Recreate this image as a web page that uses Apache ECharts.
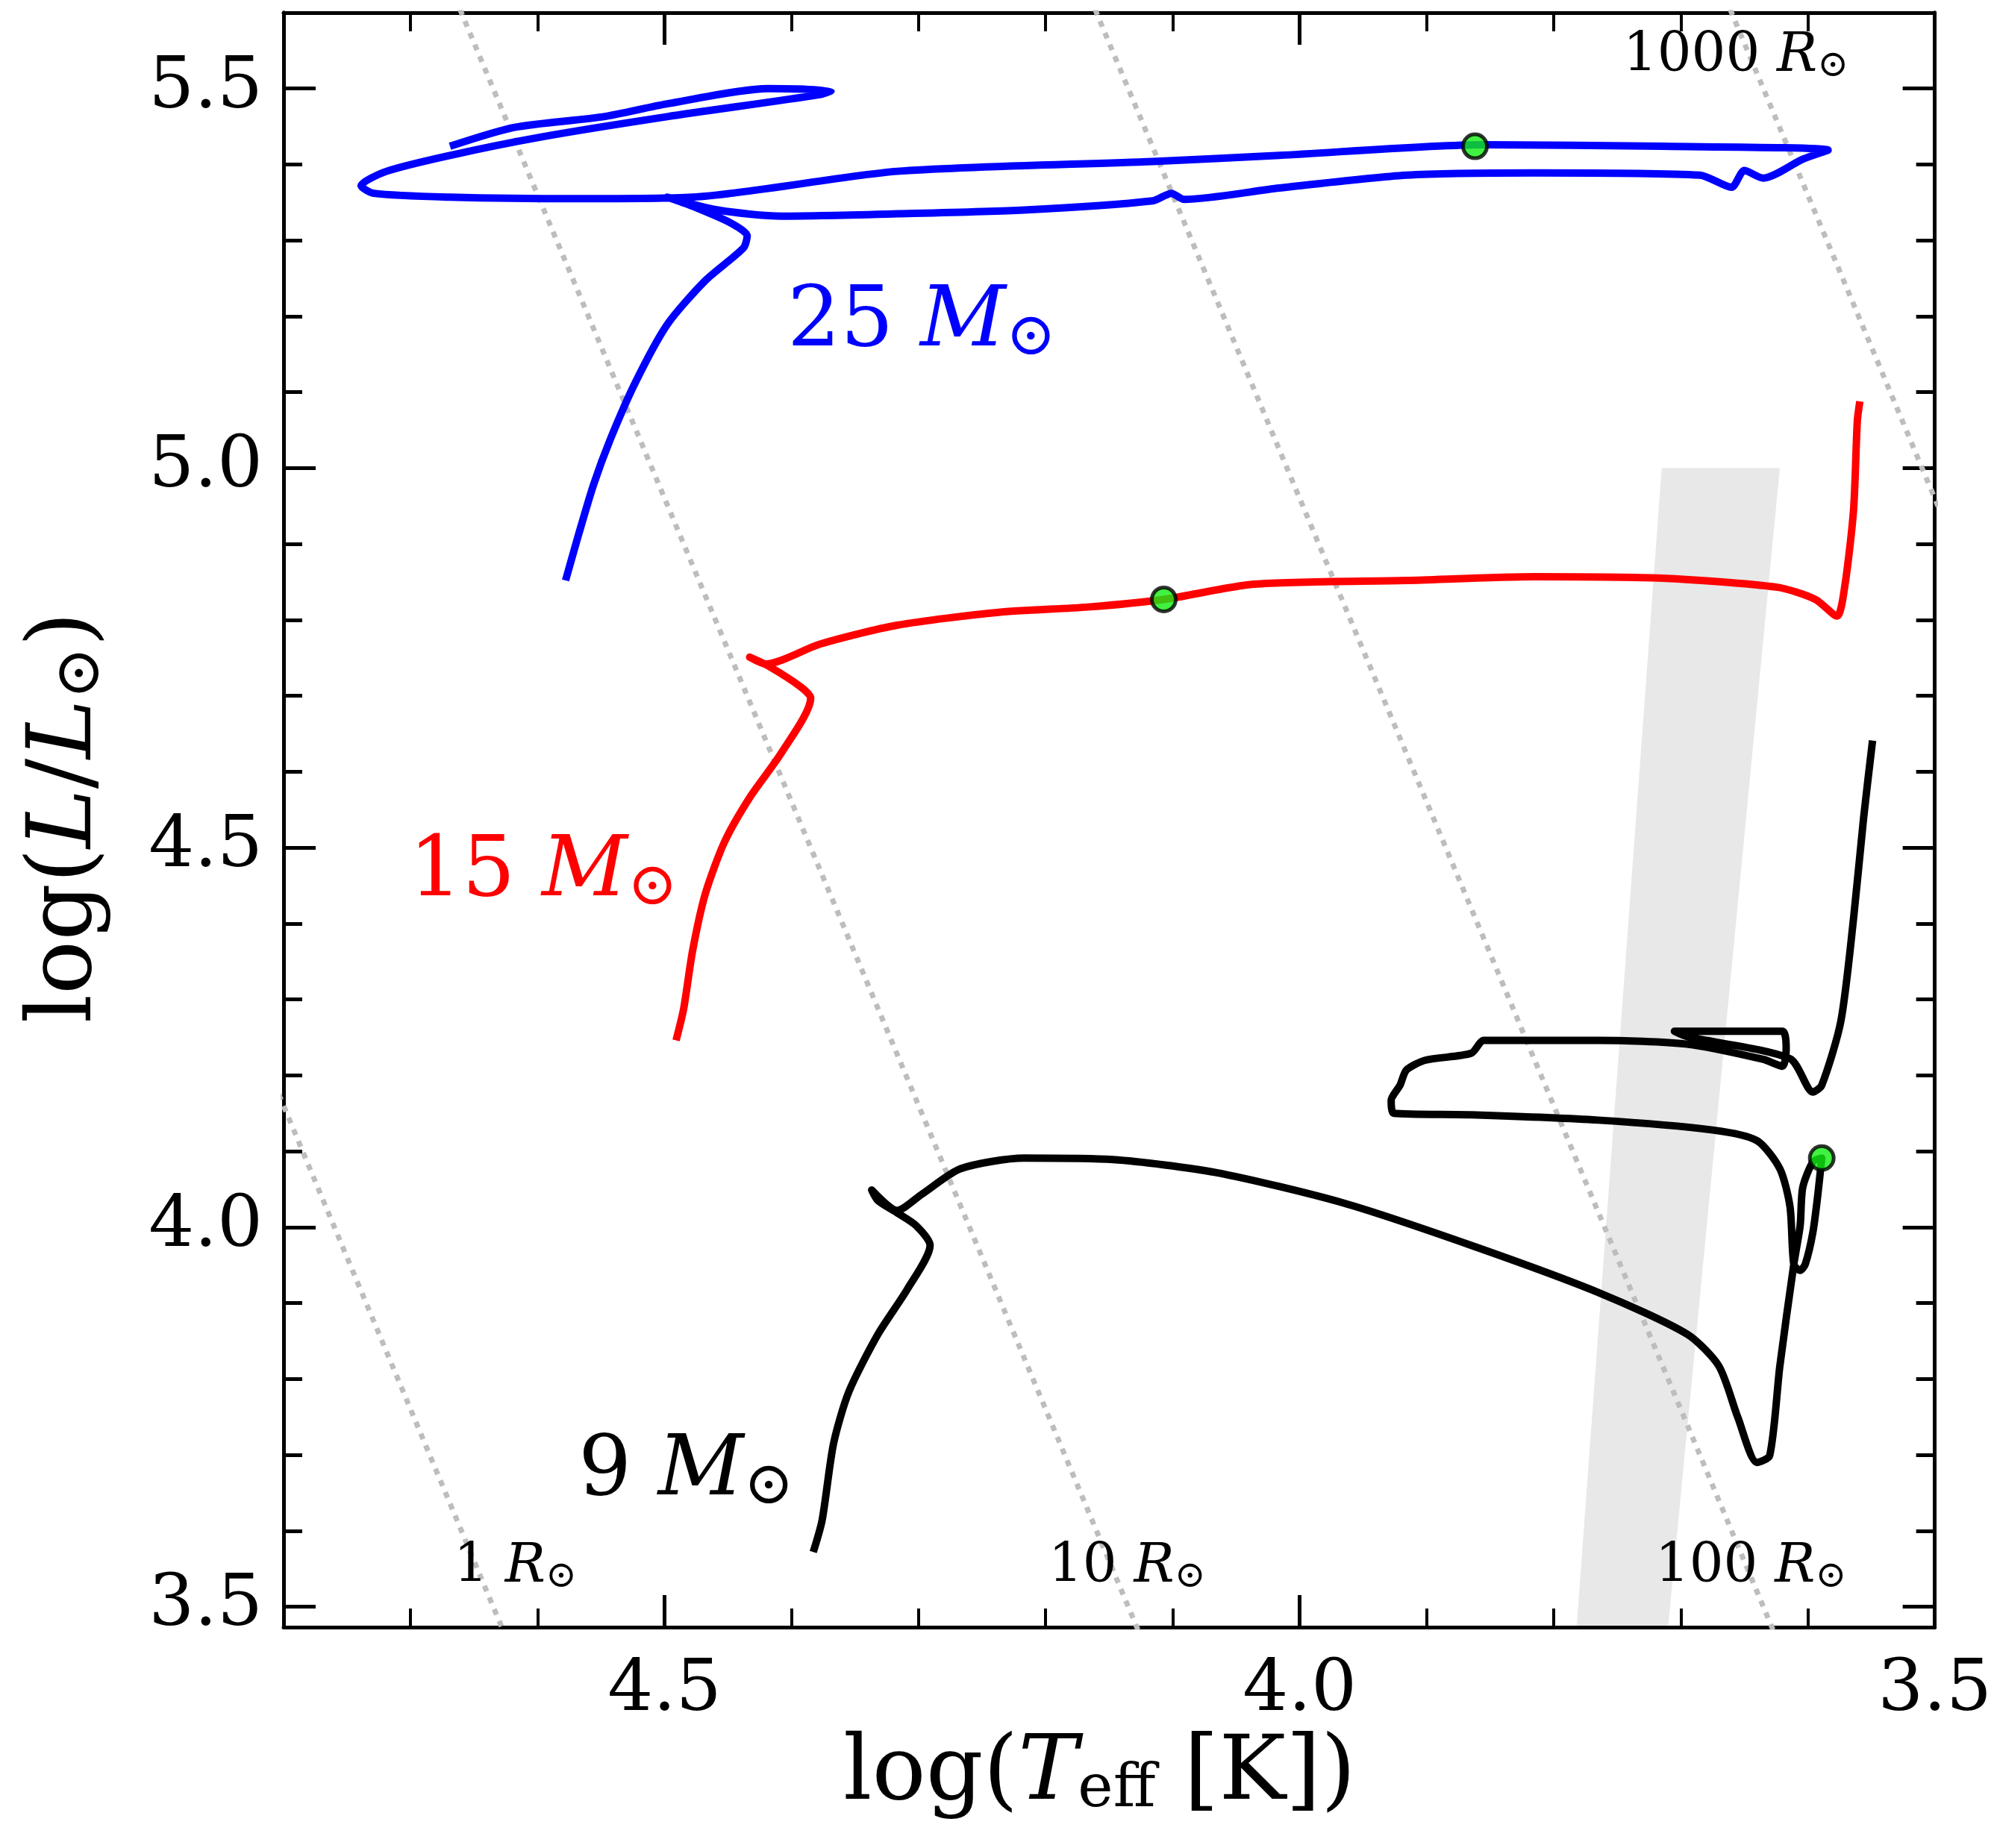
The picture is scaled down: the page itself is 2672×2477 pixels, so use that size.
<!DOCTYPE html>
<html lang="en">
<head>
<meta charset="UTF-8">
<title>HR diagram</title>
<script src="https://cdn.jsdelivr.net/npm/echarts@6/dist/echarts.min.js"></script>
<style>body{margin:0;background:#fff}</style>
</head>
<body>
<div id="main" style="width:2672px;height:2477px"></div>
<script>
// tracks: [logTeff, logL]
var track25 = [[4.578,4.852],[4.568,4.911],[4.556,4.978],[4.543,5.037],[4.523,5.113],[4.498,5.189],[4.468,5.247],[4.438,5.290],[4.435,5.306],[4.448,5.323],[4.478,5.345],[4.498,5.357],[4.458,5.340],[4.408,5.332],[4.317,5.335],[4.217,5.340],[4.116,5.352],[4.101,5.362],[4.091,5.354],[4.016,5.369],[3.916,5.386],[3.815,5.389],[3.685,5.386],[3.660,5.370],[3.650,5.392],[3.635,5.382],[3.604,5.407],[3.584,5.419],[3.715,5.424],[3.855,5.426],[4.016,5.412],[4.116,5.404],[4.317,5.391],[4.478,5.357],[4.568,5.355],[4.669,5.357],[4.729,5.362],[4.739,5.372],[4.719,5.391],[4.669,5.412],[4.598,5.436],[4.498,5.463],[4.378,5.492],[4.369,5.497],[4.418,5.500],[4.498,5.480],[4.548,5.463],[4.618,5.449],[4.669,5.424]];
var track15 = [[4.491,4.246],[4.485,4.288],[4.478,4.364],[4.468,4.439],[4.453,4.507],[4.433,4.566],[4.408,4.625],[4.385,4.697],[4.393,4.712],[4.418,4.739],[4.433,4.751],[4.420,4.742],[4.378,4.768],[4.317,4.793],[4.237,4.810],[4.167,4.817],[4.107,4.827],[4.036,4.847],[3.916,4.852],[3.815,4.857],[3.715,4.855],[3.624,4.843],[3.594,4.827],[3.577,4.805],[3.571,4.843],[3.564,4.944],[3.561,5.062],[3.559,5.088]];
var track9 = [[4.383,3.572],[4.376,3.614],[4.367,3.715],[4.355,3.783],[4.332,3.859],[4.309,3.918],[4.291,3.976],[4.302,4.002],[4.317,4.019],[4.332,4.035],[4.337,4.049],[4.317,4.022],[4.297,4.044],[4.267,4.077],[4.217,4.091],[4.147,4.089],[4.066,4.072],[3.966,4.032],[3.865,3.976],[3.765,3.914],[3.695,3.859],[3.670,3.817],[3.655,3.749],[3.640,3.690],[3.630,3.699],[3.622,3.817],[3.611,3.951],[3.606,4.002],[3.604,4.052],[3.596,4.086],[3.589,4.091],[3.592,4.044],[3.596,3.993],[3.602,3.951],[3.606,3.943],[3.611,3.951],[3.614,4.027],[3.622,4.077],[3.640,4.114],[3.675,4.128],[3.765,4.141],[3.865,4.148],[3.926,4.150],[3.928,4.167],[3.921,4.187],[3.916,4.207],[3.901,4.220],[3.865,4.229],[3.855,4.246],[3.765,4.246],[3.695,4.241],[3.635,4.221],[3.620,4.212],[3.617,4.234],[3.620,4.258],[3.705,4.258],[3.695,4.251],[3.614,4.222],[3.596,4.178],[3.589,4.187],[3.574,4.271],[3.564,4.406],[3.556,4.540],[3.549,4.641]];
var dots = [[3.862,5.424],[4.107,4.827],[3.589,4.091]];
// constant radius lines (endpoints)
var r1 = [[4.85,4.36],[4.60,3.36]];
var r10 = [[4.90,6.56],[4.10,3.36]];
var r100 = [[4.40,6.56],[3.60,3.36]];
var r1000 = [[3.90,6.56],[3.40,4.56]];
// grey strip
var band = [[3.782,3.473],[3.710,3.473],[3.622,5.0],[3.715,5.0]];
var xMajor = [3.5, 4.0, 4.5];
var yMajor = [3.5, 4.0, 4.5, 5.0, 5.5];
var yMinor = [];
for (var v = 35; v <= 56; v++) yMinor.push(v / 10);

var font = '"DejaVu Serif", "Liberation Serif", serif';
var axisLine = {show: true, lineStyle: {color: '#000', width: 5}};

function xAx(pos, labels) {
    return {type: 'value', position: pos, inverse: true, min: 3.5, max: 4.8, interval: 0.5,
        axisLine: axisLine, splitLine: {show: false},
        axisTick: {inside: true, length: 43, lineStyle: {width: 5, color: '#000'}},
        minorTick: {show: true, splitNumber: 5, length: 25, lineStyle: {width: 4, color: '#000'}},
        axisLabel: {show: labels, customValues: xMajor, margin: 38, fontSize: 96, color: '#000', fontFamily: font,
            formatter: function (v) { return v.toFixed(1); }}};
}
function yAx(pos, vals, len, labels) {
    return {type: 'value', position: pos, min: 3.473, max: 5.6,
        axisLine: axisLine, splitLine: {show: false},
        axisTick: {inside: true, length: len, customValues: vals, lineStyle: {width: 5, color: '#000'}},
        axisLabel: {show: labels, customValues: yMajor, margin: 28, fontSize: 96, color: '#000', fontFamily: font,
            formatter: function (v) { return v.toFixed(1); }}};
}
function guide(d) {
    return {type: 'line', data: d, symbol: 'none', silent: true, z: 1,
        lineStyle: {color: '#bdbdbd', width: 7, type: [8, 9]}};
}
function trk(d, c) {
    return {type: 'line', data: d, symbol: 'none', z: 3, smooth: 0.25,
        lineStyle: {color: c, width: 10, join: 'round'}};
}
function mlabel(n, c, x, y) {
    return {type: 'text', left: x, top: y, z: 10, style: {
        text: '{n|' + n + ' }{m|M}{s|⊙}', fill: c,
        rich: {n: {fontSize: 112, fontFamily: font, fill: c},
            m: {fontSize: 112, fontFamily: font, fontStyle: 'italic', fill: c},
            s: {fontSize: 80, fontFamily: font, fill: c, padding: [40, 0, 0, 0]}}}};
}
function rlabel(n, x, y) {
    return {type: 'text', left: x, top: y, z: 10, style: {
        text: '{n|' + n + ' }{m|R}{s|⊙}',
        rich: {n: {fontSize: 72, fontFamily: font}, m: {fontSize: 72, fontFamily: font, fontStyle: 'italic'},
            s: {fontSize: 50, fontFamily: font, padding: [26, 0, 0, 0]}}}};
}

var myChart = echarts.init(document.getElementById('main'));
myChart.setOption({
    animation: false,
    backgroundColor: '#fff',
    grid: {left: 380, right: 61, top: 17, bottom: 296},
    xAxis: [xAx('bottom', true), xAx('top', false)],
    yAxis: [yAx('left', yMajor, 43, true), yAx('left', yMinor, 25, false),
        yAx('right', yMajor, 43, false), yAx('right', yMinor, 25, false)],
    series: [
        {type: 'custom', silent: true, z: 0, data: [0],
            renderItem: function (params, api) {
                return {type: 'polygon', shape: {points: band.map(function (p) { return api.coord(p); })},
                    style: {fill: '#e8e8e8'}};
            }},
        guide(r1), guide(r10), guide(r100), guide(r1000),
        trk(track25, '#0000ff'), trk(track15, '#ff0000'), trk(track9, '#000000'),
        {type: 'scatter', data: dots, symbolSize: 32, z: 5,
            itemStyle: {color: '#11ee11', borderColor: '#000', borderWidth: 5}}
    ],
    graphic: [
        mlabel('25', '#0000ff', 1055, 378),
        mlabel('15', '#ff0000', 548, 1115),
        mlabel('9', '#000000', 775, 1918),
        rlabel('1000', 2175, 40),
        rlabel('1', 608, 2065),
        rlabel('10', 1405, 2065),
        rlabel('100', 2218, 2065),
        {type: 'text', left: 1130, top: 2320, style: {
            text: '{a|log(}{t|T}{e|eff}{a| [K])}',
            rich: {a: {fontSize: 120, fontFamily: font}, t: {fontSize: 120, fontFamily: font, fontStyle: 'italic'},
                e: {fontSize: 80, fontFamily: font, padding: [40, 0, 0, 0]}}}},
        {type: 'text', left: 30, top: 820, rotation: Math.PI / 2, style: {
            text: '{a|log(}{t|L}{a|/}{t|L}{s|⊙}{a|)}',
            rich: {a: {fontSize: 120, fontFamily: font}, t: {fontSize: 120, fontFamily: font, fontStyle: 'italic'},
                s: {fontSize: 84, fontFamily: font, padding: [40, 0, 0, 0]}}}}
    ]
});
</script>
</body>
</html>
